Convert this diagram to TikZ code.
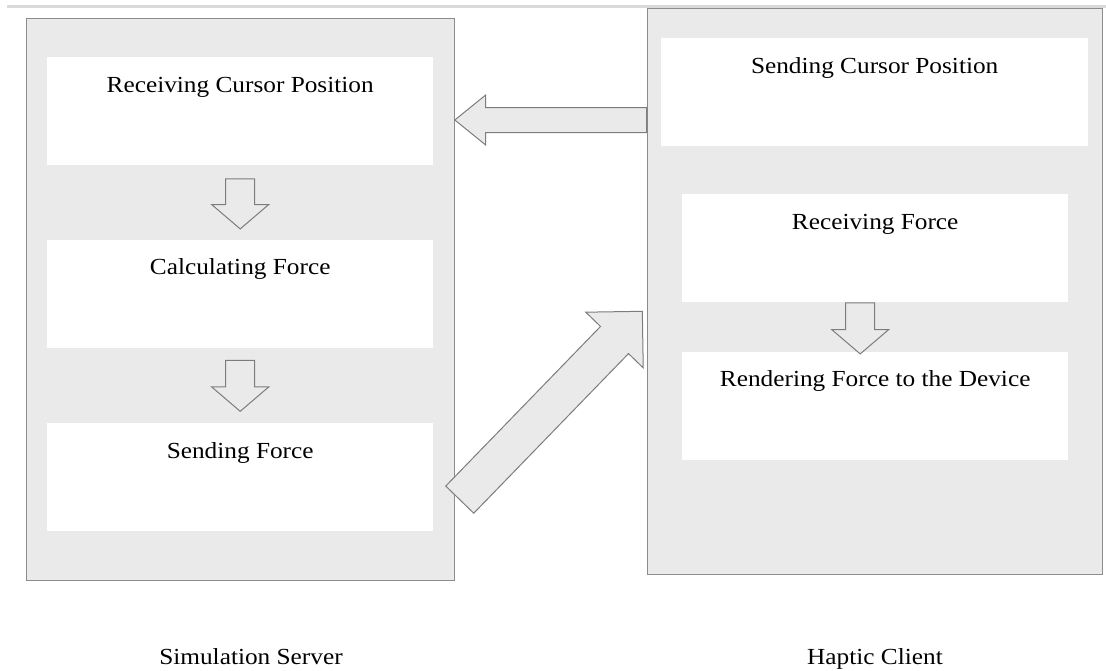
\documentclass[tikz,border=0pt]{standalone}
\usepackage{fontspec}
\setmainfont{Liberation Serif}[FakeStretch=1.1]
\usepackage{tikz}
\usetikzlibrary{calc,positioning,shapes.arrows}
\definecolor{panelgray}{HTML}{EAEAEA}
\definecolor{edgegray}{HTML}{8C8C8C}
\definecolor{arrowgray}{HTML}{7C7C7C}

\begin{document}
\begin{tikzpicture}[x=1pt,y=-1pt,
    panel/.style={
        draw=edgegray,
        line width=1.3pt,
        fill=panelgray,
        inner sep=0pt,
        anchor=north west
      },
    stage/.style={
        fill=white,
        inner sep=0pt,
        minimum width=386pt,
        text height=35pt,
        text depth=73pt,
        font=\fontsize{23}{27}\selectfont
      },
    caption/.style={
        anchor=base,
        font=\fontsize{23}{27}\selectfont
      },
    blockarrow/.style={
        single arrow,
        draw=arrowgray,
        fill=panelgray,
        line width=1pt,
        inner xsep=0pt,
        anchor=tail,
        single arrow head indent=0pt
      }
    ]
    \useasboundingbox (0,0) rectangle (1106,670);
    \draw[gray!30,line width=3pt] (7,6) -- (1106,6);

    \node[panel,minimum width=428pt,minimum height=562pt] (server) at (26,18) {};
    \node[panel,minimum width=455pt,minimum height=566pt] (client) at (647,8) {};

    \node[stage,anchor=north west] (recvpos) at (47,57) {Receiving Cursor Position};
    \node[stage,below=74pt of recvpos] (calc) {Calculating Force};
    \node[stage,below=75pt of calc] (sendforce) {Sending Force};

    \node[stage,anchor=north west,minimum width=427pt] (sendpos) at (661,38) {Sending Cursor Position};
    \node[stage,anchor=north west] (recvforce) at (682,194) {Receiving Force};
    \node[stage,below=49pt of recvforce] (render) {Rendering Force to the Device};

    \node[caption] (serverlbl) at (251,664) {Simulation Server};
    \node[caption] (clientlbl) at (875,664) {Haptic Client};

    \coordinate (a1s) at ([yshift=-13pt]recvpos.south);
    \coordinate (a1e) at ([yshift=11pt]calc.north);
    \coordinate (a2s) at ([yshift=-12pt]calc.south);
    \coordinate (a2e) at ([yshift=12pt]sendforce.north);
    \coordinate (a3s) at ([xshift=-15pt]recvforce.south);
    \coordinate (a3e) at ([xshift=-15pt,yshift=-2pt]render.north);
    \coordinate (a4s) at ([yshift=-112pt]client.north west);
    \coordinate (a4e) at (server.east |- a4s);
    \coordinate (a5s) at ($(sendforce.east)+(26,23)$);
    \coordinate (a5e) at ($(client.west)+(-5,20)$);

    \path let \p1 = (a1s), \p2 = (a1e), \n1 = {atan2(\y2-\y1,\x2-\x1)}, \n2 = {veclen(\x2-\x1,\y2-\y1)} in
      node[blockarrow,rotate=\n1,minimum height=\n2,inner ysep=14pt,single arrow head extend=14pt,single arrow tip angle=99] (down1) at (a1s) {};
    \path let \p1 = (a2s), \p2 = (a2e), \n1 = {atan2(\y2-\y1,\x2-\x1)}, \n2 = {veclen(\x2-\x1,\y2-\y1)} in
      node[blockarrow,rotate=\n1,minimum height=\n2,inner ysep=14pt,single arrow head extend=14pt,single arrow tip angle=99] (down2) at (a2s) {};
    \path let \p1 = (a3s), \p2 = (a3e), \n1 = {atan2(\y2-\y1,\x2-\x1)}, \n2 = {veclen(\x2-\x1,\y2-\y1)} in
      node[blockarrow,rotate=\n1,minimum height=\n2,inner ysep=14pt,single arrow head extend=14pt,single arrow tip angle=99] (down3) at (a3s) {};
    \path let \p1 = (a4s), \p2 = (a4e), \n1 = {atan2(\y2-\y1,\x2-\x1)}, \n2 = {veclen(\x2-\x1,\y2-\y1)} in
      node[blockarrow,rotate=\n1,minimum height=\n2,inner ysep=12pt,single arrow head extend=12.5pt,single arrow tip angle=78] (cursor) at (a4s) {};
    \path let \p1 = (a5s), \p2 = (a5e), \n1 = {atan2(\y2-\y1,\x2-\x1)}, \n2 = {veclen(\x2-\x1,\y2-\y1)} in
      node[blockarrow,rotate=\n1,minimum height=\n2,inner ysep=19pt,single arrow head extend=20.5pt,single arrow tip angle=90] (force) at (a5s) {};
  \end{tikzpicture}
\end{document}
